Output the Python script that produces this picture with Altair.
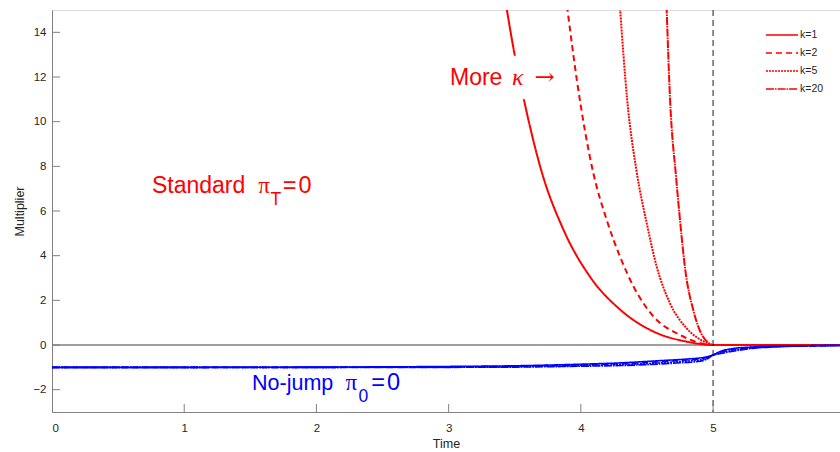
import altair as alt
import pandas as pd

# ---------------- data ----------------
k_labels = ["k=1", "k=2", "k=5", "k=20"]

# red ("Standard") curves
t_k1 = [3.435, 3.50, 3.565, 3.70, 3.87, 4.07, 4.30, 4.55, 4.80, 5.0, 5.96]
v_k1 = [15.2, 12.97, 11.1, 7.83, 5.14, 3.05, 1.57, 0.60, 0.15, 0.0, 0.0]
t_k2 = [3.895, 3.97, 4.095, 4.196, 4.30, 4.40, 4.55, 4.75, 5.0, 5.96]
v_k2 = [15.2, 11.85, 7.68, 5.59, 3.9, 2.6, 1.27, 0.45, 0.0, 0.0]
t_k5 = [4.295, 4.35, 4.42, 4.50, 4.574, 4.675, 4.80, 4.94, 5.0, 5.96]
v_k5 = [15.2, 11.0, 7.83, 5.4, 3.50, 1.86, 0.75, 0.13, 0.0, 0.0]
t_k20 = [4.648, 4.675, 4.72, 4.75, 4.79, 4.85, 4.91, 4.96, 5.0, 5.96]
v_k20 = [15.2, 10.96, 7.53, 5.59, 3.35, 1.57, 0.52, 0.12, 0.0, 0.0]

# blue ("No-jump") curves
t_blue = [0, 1, 2, 3, 3.5, 4.0, 4.3, 4.6, 4.8, 4.9, 4.95, 5.0, 5.05, 5.15, 5.3, 5.5, 5.75, 5.96]
b_k1 = [-1.0, -1.0, -0.99, -0.96, -0.93, -0.86, -0.80, -0.70, -0.63, -0.58, -0.53, -0.45, -0.30, -0.16, -0.09, -0.05, -0.03, -0.02]
b_k2 = [-1.0, -1.0, -1.0, -0.98, -0.95, -0.89, -0.84, -0.75, -0.67, -0.62, -0.56, -0.45, -0.33, -0.20, -0.11, -0.06, -0.03, -0.02]
b_k5 = [-1.0, -1.0, -1.0, -0.99, -0.97, -0.92, -0.88, -0.80, -0.72, -0.67, -0.60, -0.45, -0.36, -0.24, -0.13, -0.07, -0.04, -0.02]
b_k20 = [-1.0, -1.0, -1.0, -1.0, -0.99, -0.95, -0.92, -0.85, -0.78, -0.73, -0.64, -0.45, -0.39, -0.28, -0.15, -0.08, -0.04, -0.02]

x_ticks = [0, 1, 2, 3, 4, 5]
y_ticks = [-2, 0, 2, 4, 6, 8, 10, 12, 14]
x_domain = [0, 5.96]
y_domain = [-3, 15]
jump_time = [5.0]

# ---------------- tables ----------------
red_rows = []
for lab, ts, vs in zip(k_labels, [t_k1, t_k2, t_k5, t_k20], [v_k1, v_k2, v_k5, v_k20]):
    for i, (t, v) in enumerate(zip(ts, vs)):
        red_rows.append({"t": t, "v": v, "k": lab, "o": i})
red_df = pd.DataFrame(red_rows)

blue_rows = []
for lab, vs in zip(k_labels, [b_k1, b_k2, b_k5, b_k20]):
    for i, (t, v) in enumerate(zip(t_blue, vs)):
        blue_rows.append({"t": t, "v": v, "kb": lab, "o": i})
blue_df = pd.DataFrame(blue_rows)

FONT = "Liberation Sans"
AX = "#262626"
GRAY = "#808080"
RED, BLUE = "#ff0000", "#0000ff"
W, H = 788, 402

xscale = alt.Scale(domain=x_domain, nice=False, zero=False)
yscale = alt.Scale(domain=y_domain, nice=False, zero=False)
xaxis = alt.Axis(values=x_ticks, ticks=False, grid=False, domainColor=GRAY, domainWidth=1,
                 labelColor=AX, labelFont=FONT, labelFontSize=11.5, labelPadding=10,
                 titleFont=FONT, titleFontSize=12.5, titleFontWeight="normal", titleColor=AX,
                 titlePadding=4, format="d")
yaxis = alt.Axis(values=y_ticks, ticks=False, grid=False, domainColor=GRAY, domainWidth=1,
                 labelColor=AX, labelFont=FONT, labelFontSize=11.5, labelPadding=6,
                 titleFont=FONT, titleFontSize=12.5, titleFontWeight="normal", titleColor=AX,
                 titlePadding=6, format="d")


def X(field="t"):
    return alt.X(f"{field}:Q", scale=xscale, axis=xaxis, title="Time")


def Y(field="v"):
    return alt.Y(f"{field}:Q", scale=yscale, axis=yaxis, title="Multiplier")


dash_range = [[1, 0], [6, 4], [2, 1], [8, 1, 1.5, 1]]

zero_line = alt.Chart(pd.DataFrame({"v": [0.0]})).mark_rule(color=GRAY, strokeWidth=1.5).encode(y=Y())

red_lines = alt.Chart(red_df).mark_line(color=RED, strokeWidth=2, clip=True,
                                        interpolate="monotone").encode(
    x=X(), y=Y(), order="o:Q",
    strokeDash=alt.StrokeDash("k:N", scale=alt.Scale(domain=k_labels, range=dash_range), sort=k_labels,
                              legend=alt.Legend(orient="none", legendX=721, legendY=16, title=None,
                                                symbolType="M-2,0H2", symbolSize=256,
                                                symbolStrokeWidth=1.5, symbolStrokeColor=RED,
                                                labelFont=FONT, labelFontSize=10.5, labelColor=AX,
                                                labelOffset=9, rowPadding=3, padding=0)))

blue_lines = alt.Chart(blue_df).mark_line(color=BLUE, strokeWidth=1.6, clip=True,
                                          interpolate="monotone").encode(
    x=X(), y=Y(), order="o:Q",
    strokeDash=alt.StrokeDash("kb:N", scale=alt.Scale(domain=k_labels, range=dash_range), legend=None))

vline = alt.Chart(pd.DataFrame({"t": jump_time})).mark_rule(color="#1a1a1a", strokeWidth=1,
                                                            strokeDash=[6, 4]).encode(x=X())

ytick_marks = alt.Chart(pd.DataFrame({"v": y_ticks})).mark_rule(color=GRAY, strokeWidth=1).encode(
    y=Y(), x=alt.value(0), x2=alt.value(8))
xtick_marks = alt.Chart(pd.DataFrame({"t": x_ticks[1:]})).mark_rule(color=GRAY, strokeWidth=1).encode(
    x=X(), y=alt.value(H), y2=alt.value(H - 8))

# white box behind the "More kappa" label
box = alt.Chart(pd.DataFrame({"t": [2.99], "t2": [3.84], "v": [11.0], "v2": [12.95]})).mark_rect(
    color="white").encode(x=X(), x2="t2:Q", y=Y(), y2="v2:Q")


def label(t, v, text, color, size, font=FONT, style="normal"):
    return alt.Chart(pd.DataFrame({"t": [t], "v": [v], "s": [text]})).mark_text(
        align="left", baseline="alphabetic", color=color, fontSize=size, font=font,
        fontStyle=style).encode(x=X(), y=Y(), text="s:N")


labels = [
    label(3.01, 11.62, "More", RED, 23),
    label(3.48, 11.62, "κ", RED, 24, font="Liberation Serif", style="italic"),
    label(3.65, 11.62, "→", RED, 24, font="DejaVu Serif"),
    label(0.756, 6.80, "Standard", RED, 23),
    label(1.56, 6.80, "π", RED, 23, font="Liberation Serif"),
    label(1.652, 6.26, "T", RED, 17.5),
    label(1.745, 6.80, "=\u200a0", RED, 23.5),
    label(1.513, -2.01, "No-jump", BLUE, 21.5),
    label(2.22, -2.01, "π", BLUE, 23, font="Liberation Serif"),
    label(2.318, -2.54, "0", BLUE, 17.5),
    label(2.415, -2.01, "=\u200a0", BLUE, 23.5),
]

chart = alt.layer(
    zero_line, red_lines, box, *labels, blue_lines, vline, ytick_marks, xtick_marks
).resolve_scale(strokeDash="independent").properties(
    width=W, height=H,
    autosize=alt.AutoSizeParams(type="none"),
    padding={"left": 52, "top": 10, "right": 0, "bottom": 40},
).configure_view(stroke=None).configure(background="white")

chart.save("out.html", embed_options={"renderer": "svg", "actions": False})
